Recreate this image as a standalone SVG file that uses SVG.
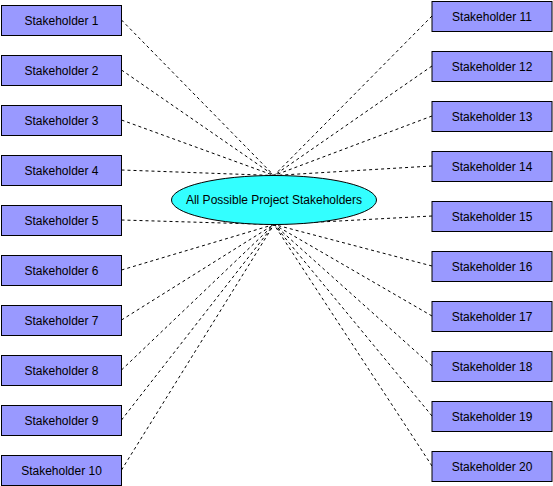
<svg xmlns="http://www.w3.org/2000/svg" width="553" height="486" viewBox="0 0 553 486">
<style>
.box{fill:#9999ff;stroke:#000;stroke-width:1}
.lbl{font-family:"Liberation Sans",Arial,sans-serif;font-size:12px;fill:#000;text-anchor:middle;dominant-baseline:central}
.c{stroke:#000;stroke-width:1;stroke-dasharray:3,3;fill:none}
</style>
<rect width="553" height="486" fill="#fff"/>
<g id="connectors">
<line class="c" x1="121.5" y1="20" x2="274" y2="175.5"/>
<line class="c" x1="121.5" y1="70" x2="274" y2="175.5"/>
<line class="c" x1="121.5" y1="120" x2="274" y2="175.5"/>
<line class="c" x1="121.5" y1="170" x2="274" y2="175.5"/>
<line class="c" x1="121.5" y1="220" x2="274" y2="224.5"/>
<line class="c" x1="121.5" y1="270" x2="274" y2="224.5"/>
<line class="c" x1="121.5" y1="320" x2="274" y2="224.5"/>
<line class="c" x1="121.5" y1="370" x2="274" y2="224.5"/>
<line class="c" x1="121.5" y1="420" x2="274" y2="224.5"/>
<line class="c" x1="121.5" y1="470" x2="274" y2="224.5"/>
<line class="c" x1="432" y1="16" x2="274" y2="175.5"/>
<line class="c" x1="432" y1="66" x2="274" y2="175.5"/>
<line class="c" x1="432" y1="116" x2="274" y2="175.5"/>
<line class="c" x1="432" y1="166" x2="274" y2="175.5"/>
<line class="c" x1="432" y1="216" x2="274" y2="224.5"/>
<line class="c" x1="432" y1="266" x2="274" y2="224.5"/>
<line class="c" x1="432" y1="316" x2="274" y2="224.5"/>
<line class="c" x1="432" y1="366" x2="274" y2="224.5"/>
<line class="c" x1="432" y1="416" x2="274" y2="224.5"/>
<line class="c" x1="432" y1="466" x2="274" y2="224.5"/>
</g>
<g id="center"><ellipse cx="274" cy="200" rx="102.5" ry="24.5" fill="#33ffff" stroke="#000"/><text class="lbl" x="274" y="200">All Possible Project Stakeholders</text></g>
<g id="s1"><rect class="box" x="1.5" y="5.5" width="120" height="30"/><text class="lbl" x="61.5" y="20.5">Stakeholder 1</text></g>
<g id="s2"><rect class="box" x="1.5" y="55.5" width="120" height="30"/><text class="lbl" x="61.5" y="70.5">Stakeholder 2</text></g>
<g id="s3"><rect class="box" x="1.5" y="105.5" width="120" height="30"/><text class="lbl" x="61.5" y="120.5">Stakeholder 3</text></g>
<g id="s4"><rect class="box" x="1.5" y="155.5" width="120" height="30"/><text class="lbl" x="61.5" y="170.5">Stakeholder 4</text></g>
<g id="s5"><rect class="box" x="1.5" y="205.5" width="120" height="30"/><text class="lbl" x="61.5" y="220.5">Stakeholder 5</text></g>
<g id="s6"><rect class="box" x="1.5" y="255.5" width="120" height="30"/><text class="lbl" x="61.5" y="270.5">Stakeholder 6</text></g>
<g id="s7"><rect class="box" x="1.5" y="305.5" width="120" height="30"/><text class="lbl" x="61.5" y="320.5">Stakeholder 7</text></g>
<g id="s8"><rect class="box" x="1.5" y="355.5" width="120" height="30"/><text class="lbl" x="61.5" y="370.5">Stakeholder 8</text></g>
<g id="s9"><rect class="box" x="1.5" y="405.5" width="120" height="30"/><text class="lbl" x="61.5" y="420.5">Stakeholder 9</text></g>
<g id="s10"><rect class="box" x="1.5" y="455.5" width="120" height="30"/><text class="lbl" x="61.5" y="470.5">Stakeholder 10</text></g>
<g id="s11"><rect class="box" x="432" y="1.5" width="120" height="30"/><text class="lbl" x="492" y="16.5">Stakeholder 11</text></g>
<g id="s12"><rect class="box" x="432" y="51.5" width="120" height="30"/><text class="lbl" x="492" y="66.5">Stakeholder 12</text></g>
<g id="s13"><rect class="box" x="432" y="101.5" width="120" height="30"/><text class="lbl" x="492" y="116.5">Stakeholder 13</text></g>
<g id="s14"><rect class="box" x="432" y="151.5" width="120" height="30"/><text class="lbl" x="492" y="166.5">Stakeholder 14</text></g>
<g id="s15"><rect class="box" x="432" y="201.5" width="120" height="30"/><text class="lbl" x="492" y="216.5">Stakeholder 15</text></g>
<g id="s16"><rect class="box" x="432" y="251.5" width="120" height="30"/><text class="lbl" x="492" y="266.5">Stakeholder 16</text></g>
<g id="s17"><rect class="box" x="432" y="301.5" width="120" height="30"/><text class="lbl" x="492" y="316.5">Stakeholder 17</text></g>
<g id="s18"><rect class="box" x="432" y="351.5" width="120" height="30"/><text class="lbl" x="492" y="366.5">Stakeholder 18</text></g>
<g id="s19"><rect class="box" x="432" y="401.5" width="120" height="30"/><text class="lbl" x="492" y="416.5">Stakeholder 19</text></g>
<g id="s20"><rect class="box" x="432" y="451.5" width="120" height="30"/><text class="lbl" x="492" y="466.5">Stakeholder 20</text></g>
</svg>
